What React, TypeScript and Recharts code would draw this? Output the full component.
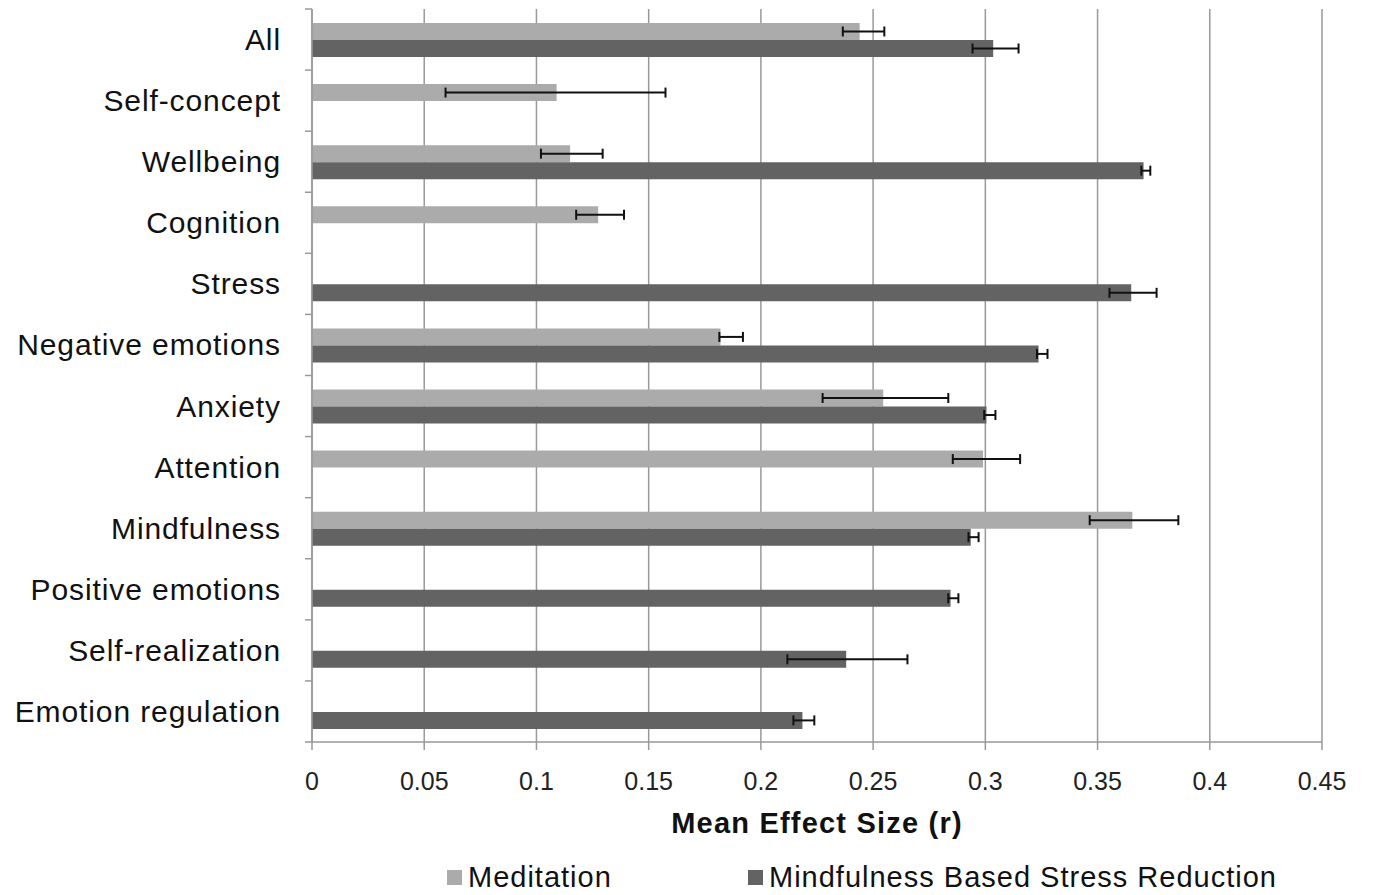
import { BarChart, Bar, XAxis, YAxis, CartesianGrid, ErrorBar, Legend } from 'recharts';

// categories top to bottom, effect sizes with lower / upper error limits
const CATEGORIES = ['All', 'Self-concept', 'Wellbeing', 'Cognition', 'Stress', 'Negative emotions', 'Anxiety', 'Attention', 'Mindfulness', 'Positive emotions', 'Self-realization', 'Emotion regulation'];

const MEDITATION = [0.244, 0.109, 0.115, 0.1275, null, 0.182, 0.2545, 0.299, 0.3655, null, null, null];
const MEDITATION_LOW = [0.2365, 0.0595, 0.102, 0.1177, null, 0.1815, 0.2275, 0.2855, 0.3465, null, null, null];
const MEDITATION_HIGH = [0.255, 0.1575, 0.1295, 0.139, null, 0.192, 0.2835, 0.3155, 0.386, null, null, null];

const MBSR = [0.3035, null, 0.3705, null, 0.365, 0.3237, 0.3005, null, 0.2935, 0.2845, 0.238, 0.2185];
const MBSR_LOW = [0.2943, null, 0.3695, null, 0.3553, 0.323, 0.2995, null, 0.2925, 0.2835, 0.2118, 0.2145];
const MBSR_HIGH = [0.3148, null, 0.3735, null, 0.3763, 0.3277, 0.3045, null, 0.297, 0.288, 0.2653, 0.2238];

const X_TICKS = [0, 0.05, 0.1, 0.15, 0.2, 0.25, 0.3, 0.35, 0.4, 0.45];
const X_LABELS = ['0', '0.05', '0.1', '0.15', '0.2', '0.25', '0.3', '0.35', '0.4', '0.45'];

const SERIES_NAMES = ['Meditation', 'Mindfulness Based Stress Reduction'];
const COLORS = ['#ababab', '#636363'];

const FONT = '"Liberation Sans", Arial, sans-serif';

const err = (v: number | null, lo: number | null, hi: number | null) =>
  v == null || lo == null || hi == null ? undefined : [v - lo, hi - v];

const data = CATEGORIES.map((name, i) => ({
  name,
  med: MEDITATION[i],
  medErr: err(MEDITATION[i], MEDITATION_LOW[i], MEDITATION_HIGH[i]),
  mbsr: MBSR[i],
  mbsrErr: err(MBSR[i], MBSR_LOW[i], MBSR_HIGH[i]),
}));

// category label plus Excel-style tick marks on the band edges
const CategoryTick = (props: any) => {
  const { x, y, payload, index } = props;
  const half = payload && payload.offset ? payload.offset : 30.55;
  const last = index === CATEGORIES.length - 1;
  return (
    <g>
      <line x1={x + 24} x2={x + 31} y1={y - half} y2={y - half} stroke="#999" strokeWidth={1.5} />
      {last && <line x1={x + 24} x2={x + 31} y1={y + half} y2={y + half} stroke="#999" strokeWidth={1.5} />}
      <text x={x} y={y} dy="0.35em" textAnchor="end" fontSize={30} letterSpacing={0.9} fill="#111" fontFamily={FONT}>
        {payload.value}
      </text>
    </g>
  );
};

const renderLegend = (props: any) => {
  const items = props.payload || [];
  const lefts = [447, 748];
  return (
    <div style={{ position: 'relative', height: 50, fontFamily: FONT }}>
      {items.map((item: any, i: number) => (
        <div key={item.value} style={{ position: 'absolute', left: lefts[i], top: 17, height: 30, display: 'flex', alignItems: 'center' }}>
          <span style={{ width: 15, height: 15, background: item.color, display: 'inline-block', marginRight: 6 }} />
          <span style={{ fontSize: 29, letterSpacing: 1, color: '#111', lineHeight: '30px' }}>{item.value}</span>
        </div>
      ))}
    </div>
  );
};

export default function App() {
  return (
    <div style={{ position: 'absolute', left: 0, top: 0, width: 1375, height: 895, background: '#fff' }}>
      <BarChart
        width={1375}
        height={895}
        data={data}
        layout="vertical"
        barSize={17}
        barGap={0}
        margin={{ top: 9, right: 53, left: 0, bottom: 0 }}
      >
        <CartesianGrid horizontal={false} stroke="#999" strokeWidth={1.5} />
        <XAxis
          type="number"
          domain={[0, 0.45]}
          ticks={X_TICKS}
          tickFormatter={(v: number) => X_LABELS[X_TICKS.indexOf(v)] ?? String(v)}
          height={103}
          tickSize={8}
          tickMargin={22}
          stroke="#999"
          strokeWidth={1.5}
          tick={{ fontSize: 25, fill: '#222', fontFamily: FONT }}
          label={{
            value: 'Mean Effect Size (r)',
            position: 'insideBottom',
            offset: 12,
            style: { fontSize: 29, fontWeight: 'bold', letterSpacing: 1.2, fill: '#111', fontFamily: FONT },
          }}
        />
        <YAxis
          type="category"
          dataKey="name"
          width={312}
          tickLine={false}
          tickSize={7}
          tickMargin={24}
          stroke="#999"
          strokeWidth={1.5}
          interval={0}
          tick={<CategoryTick />}
        />
        <Legend verticalAlign="bottom" content={renderLegend} />
        <Bar dataKey="med" name={SERIES_NAMES[0]} fill={COLORS[0]} isAnimationActive={false}>
          <ErrorBar dataKey="medErr" direction="x" width={5} stroke="#111" strokeWidth={2} />
        </Bar>
        <Bar dataKey="mbsr" name={SERIES_NAMES[1]} fill={COLORS[1]} isAnimationActive={false}>
          <ErrorBar dataKey="mbsrErr" direction="x" width={5} stroke="#111" strokeWidth={2} />
        </Bar>
      </BarChart>
    </div>
  );
}
